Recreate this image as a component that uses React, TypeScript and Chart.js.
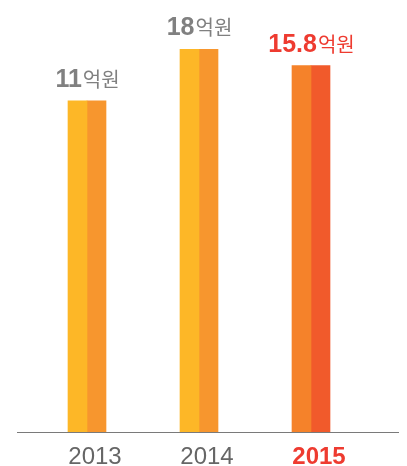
import React, { useEffect, useRef } from "react";
import { Chart, registerables } from "chart.js";

Chart.register(...registerables);

const years = ["2013", "2014", "2015"];
const values = [11, 18, 15.8];
const unitLabel = "억원";
const leftColors = ["#FDB727", "#FDB727", "#F5822A"];
const rightColors = ["#F7962E", "#F7962E", "#F15A2B"];
const labelColors = ["#808080", "#808080", "#EE3B30"];
const tickColors = ["#666666", "#666666", "#EE3B30"];
const tickWeights = ["normal", "normal", "bold"];

const AXIS_MIN = -34;
const AXIS_MAX = 22;

const valueLabelPlugin = {
  id: "valueLabels",
  afterDatasetsDraw(chart: any) {
    const ctx = chart.ctx;
    const m0 = chart.getDatasetMeta(0);
    const m1 = chart.getDatasetMeta(1);
    ctx.save();
    values.forEach((v, i) => {
      const b0 = m0.data[i];
      const b1 = m1.data[i];
      const cx = (b0.x + b1.x) / 2;
      const top = Math.min(b0.y, b1.y);
      const numText = String(v);
      const numFont = "bold 25px 'Liberation Sans', Arial, sans-serif";
      const unitFont = "20px 'Noto Sans CJK KR', sans-serif";
      ctx.font = numFont;
      const wn = ctx.measureText(numText).width;
      ctx.font = unitFont;
      const wu = ctx.measureText(unitLabel).width;
      const start = cx - (wn + wu) / 2;
      const y = top - 14;
      ctx.textBaseline = "alphabetic";
      ctx.textAlign = "left";
      ctx.fillStyle = labelColors[i];
      ctx.font = numFont;
      ctx.fillText(numText, start, y);
      ctx.font = unitFont;
      ctx.fillText(unitLabel, start + wn + 1, y);
    });
    ctx.restore();
  },
};

const baselinePlugin = {
  id: "baseline",
  afterDatasetsDraw(chart: any) {
    const ctx = chart.ctx;
    const y = chart.scales.y.getPixelForValue(AXIS_MIN);
    ctx.save();
    ctx.strokeStyle = "#7a7a7a";
    ctx.lineWidth = 1.2;
    ctx.beginPath();
    ctx.moveTo(17, Math.round(y) + 0.5);
    ctx.lineTo(399, Math.round(y) + 0.5);
    ctx.stroke();
    ctx.restore();
  },
};

export default function App() {
  const ref = useRef<HTMLCanvasElement>(null);
  useEffect(() => {
    if (!ref.current) return;
    const chart = new Chart(ref.current, {
      type: "bar",
      data: {
        labels: years,
        datasets: [
          {
            data: values,
            backgroundColor: leftColors,
            barThickness: 19,
            base: AXIS_MIN,
          } as any,
          {
            data: values,
            backgroundColor: rightColors,
            barThickness: 19,
            base: AXIS_MIN,
          } as any,
        ],
      },
      options: {
        animation: false,
        responsive: false,
        maintainAspectRatio: false,
        layout: { padding: { left: 31, right: 40, top: 20, bottom: -16 } },
        plugins: { legend: { display: false }, tooltip: { enabled: false } },
        scales: {
          y: { display: false, min: AXIS_MIN, max: AXIS_MAX },
          x: {
            grid: { display: false, drawTicks: false },
            border: { display: false },
            ticks: {
              padding: 13,
              labelOffset: 8,
              font: (c: any) => ({
                size: 24,
                lineHeight: 1,
                family: "'Liberation Sans', Arial, sans-serif",
                weight: tickWeights[c.index] as any,
              }),
              color: (c: any) => tickColors[c.index],
            },
          },
        },
      },
      plugins: [valueLabelPlugin, baselinePlugin],
    });
    return () => chart.destroy();
  }, []);
  return (
    <div style={{ position: "fixed", left: 0, top: 0, width: 407, height: 466, background: "#fff" }}>
      <canvas ref={ref} width={407} height={466} style={{ width: 407, height: 466 }} />
    </div>
  );
}
